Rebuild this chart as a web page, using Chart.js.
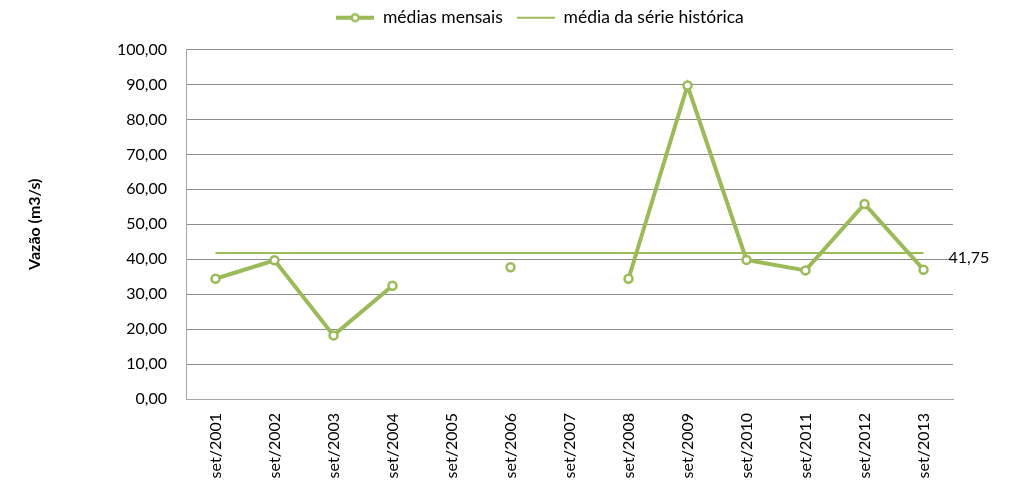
<!DOCTYPE html>
<html>
<head>
<meta charset="utf-8">
<script src="https://cdn.jsdelivr.net/npm/chart.js@4.4.0/dist/chart.umd.min.js"></script>
<style>
  html, body { margin: 0; padding: 0; background: #fff; }
  #wrap { width: 1009px; height: 493px; }
</style>
</head>
<body>
<div id="wrap"><canvas id="grafico" width="1009" height="493"></canvas></div>
<script>
var anos = ["set/2001", "set/2002", "set/2003", "set/2004", "set/2005", "set/2006", "set/2007",
            "set/2008", "set/2009", "set/2010", "set/2011", "set/2012", "set/2013"];
var mediasMensais = [34.4, 39.7, 18.2, 32.4, null, 37.7, null, 34.4, 89.7, 39.8, 36.8, 55.8, 37.0];
var mediaSerie = [41.75, 41.75, 41.75, 41.75, 41.75, 41.75, 41.75, 41.75, 41.75, 41.75, 41.75, 41.75, 41.75];
var yMin = 0, yMax = 100, yStep = 10;

var verde = "#9bbb59";
var fonte = "Lato";

function marcador(comCirculo) {
  var c = document.createElement("canvas");
  c.width = 38; c.height = 12;
  var g = c.getContext("2d");
  g.strokeStyle = verde;
  g.lineWidth = comCirculo ? 4 : 2;
  g.beginPath(); g.moveTo(0, 6); g.lineTo(38, 6); g.stroke();
  if (comCirculo) {
    g.beginPath(); g.arc(19, 6, 3.5, 0, Math.PI * 2);
    g.fillStyle = "#fff"; g.fill();
    g.lineWidth = 2.5; g.stroke();
  }
  return c;
}
var marcadores = [marcador(true), marcador(false)];

// rotulo do valor medio na ponta da linha
var rotuloMedia = {
  id: "rotuloMedia",
  afterDatasetsDraw: function(chart) {
    var meta = chart.getDatasetMeta(1);
    var ultimo = meta.data[meta.data.length - 1];
    var ctx = chart.ctx;
    ctx.save();
    ctx.font = "16px " + fonte;
    ctx.fillStyle = "#000";
    ctx.textAlign = "left";
    ctx.textBaseline = "middle";
    ctx.fillText(mediaSerie[mediaSerie.length - 1].toFixed(2).replace(".", ","), ultimo.x + 25, ultimo.y + 5);
    ctx.restore();
  }
};

// desloca a legenda para a posicao usada no original
var posLegenda = {
  id: "posLegenda",
  beforeDraw: function(chart) {
    var h = chart.legend.bottom - chart.legend.top;
    chart.legend.left = 70;
    chart.legend.right = 1010;
    chart.legend.top = -5;
    chart.legend.bottom = h - 5;
  }
};

new Chart(document.getElementById("grafico"), {
  type: "line",
  data: {
    labels: anos,
    datasets: [
      {
        label: "médias mensais",
        data: mediasMensais,
        borderColor: verde,
        borderWidth: 4,
        pointRadius: 4,
        pointBorderWidth: 2.5,
        pointBackgroundColor: "#fff",
        pointBorderColor: verde,
        pointStyle: "circle",
        spanGaps: false,
        tension: 0
      },
      {
        label: "média da série histórica",
        data: mediaSerie,
        borderColor: verde,
        borderWidth: 2,
        pointRadius: 0,
        tension: 0
      }
    ]
  },
  options: {
    responsive: false,
    animation: false,
    layout: { padding: { top: 8, left: 25, right: 56, bottom: 0 } },
    plugins: {
      legend: {
        position: "top",
        labels: {
          usePointStyle: true,
          pointStyleWidth: 38,
          color: "#000",
          font: { family: fonte, size: 17.5 },
          padding: 14,
          generateLabels: function(chart) {
            return chart.data.datasets.map(function(ds, i) {
              return { text: ds.label, pointStyle: marcadores[i], datasetIndex: i,
                       fillStyle: verde, strokeStyle: verde, lineWidth: 0, fontColor: "#000" };
            });
          }
        }
      },
      tooltip: { enabled: false }
    },
    scales: {
      x: {
        offset: true,
        grid: { display: false, drawTicks: false, offset: true },
        border: { display: true, color: "#a6a6a6", width: 1 },
        ticks: {
          minRotation: 90, maxRotation: 90, padding: 14,
          color: "#000", font: { family: fonte, size: 16 }
        },
        afterFit: function(s) { s.height = 94; }
      },
      y: {
        min: yMin, max: yMax,
        grid: { color: "#8c8c8c", lineWidth: 1, drawTicks: false },
        border: { display: true, color: "#a6a6a6", width: 1 },
        ticks: {
          stepSize: yStep, padding: 19,
          color: "#000", font: { family: fonte, size: 16 },
          callback: function(v) { return v.toFixed(2).replace(".", ","); }
        },
        title: {
          display: true, text: "Vazão (m3/s)",
          color: "#000", font: { family: fonte, size: 16, weight: "bold" },
          padding: { top: 0, bottom: 0 }
        },
        afterFit: function(s) { s.width = 161; }
      }
    }
  },
  plugins: [rotuloMedia, posLegenda]
});
</script>
</body>
</html>
